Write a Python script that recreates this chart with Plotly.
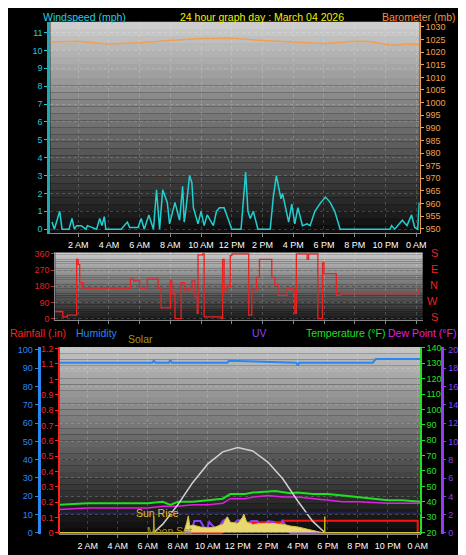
import plotly.graph_objects as go

W, H = 466, 555

# ---- data (hours since midnight) ----
wind_t = [0.3, 0.45, 0.8, 0.95, 1.4, 1.6, 1.75, 1.9, 2.2, 2.5, 2.6, 3.2, 3.4, 3.55, 3.7, 3.8, 4.8, 5.2, 5.35,
          5.9, 6.1, 6.3, 6.6, 6.7, 6.9, 7.1, 7.3, 7.5, 7.8, 7.95, 8.1, 8.3, 8.6, 8.8, 8.9, 9.0, 9.25, 9.4, 9.5,
          9.6, 9.8, 10.0, 10.2, 10.4, 10.8, 11.0, 11.2, 11.5, 11.8, 12.0, 12.6, 12.9, 13.05, 13.2, 13.4, 13.6,
          13.7, 14.5, 14.7, 14.9, 15.0, 15.2, 15.3, 15.5, 15.7, 15.9, 16.1, 16.3, 16.6, 16.9, 17.1, 17.4, 17.8,
          18.1, 18.4, 18.7, 18.9, 19.05, 19.2, 22.3, 22.4, 22.6, 23.1, 23.4, 23.7, 23.9, 24.1, 24.2]
wind_v = [0.4, 0.0, 1.0, 0.0, 0.0, 0.6, 0.0, 0.2, 0.2, 0.0, 0.2, 0.0, 0.6, 0.2, 0.7, 0.0, 0.0, 0.4, 0.1,
          0.1, 0.6, 0.0, 0.8, 0.5, 0.0, 2.2, 0.0, 2.2, 1.5, 0.3, 0.8, 1.5, 0.5, 2.4, 0.4, 1.0, 3.0, 2.6, 1.2,
          0.9, 0.3, 1.0, 0.2, 0.8, 0.2, 1.0, 1.2, 1.2, 0.4, 0.0, 0.0, 3.2, 1.0, 0.6, 1.0, 0.3,
          0.0, 0.0, 1.8, 3.0, 2.6, 1.7, 2.0, 1.2, 0.4, 1.4, 0.3, 1.2, 0.2, 0.3, 0.2, 1.0, 1.5,
          1.8, 1.5, 1.0, 0.5, 0.0, 0.0, 0.0, 0.2, 0.0, 0.5, 0.2, 0.8, 0.1, 0.0, 1.5]

baro_t = [0.2, 2, 4, 6, 8, 10, 12, 14, 16, 18, 20, 21, 22.5, 23.5, 24.2]
baro_v = [1024, 1024.3, 1023.2, 1023.7, 1024.6, 1025.4, 1025.5, 1024.6, 1024.0, 1023.4, 1024.3, 1024.2, 1022.6, 1023.2, 1023.0]

dir_t = [0.5, 0.9, 1.0, 1.3, 1.8, 1.9, 2.0, 2.1, 2.3, 5.3, 5.4, 5.6, 5.9, 6.0, 6.4, 6.5, 7.0, 7.2, 7.4, 7.9,
         8.0, 8.1, 8.3, 8.6, 8.7, 8.9, 9.2, 9.4, 9.6, 9.75, 9.8, 10.1, 10.2, 11.3, 11.4, 11.5, 11.7, 11.9,
         12.0, 13.0, 13.1, 13.3, 13.6, 13.8, 14.5, 14.6, 14.8, 15.0, 15.6, 16.0, 16.1, 16.2, 16.9, 17.0,
         17.5, 17.6, 17.8, 17.9, 18.0, 18.6, 18.8, 19.1, 24.0, 24.2]
dir_v = [40, 40, 10, 20, 20, 330, 300, 200, 170, 170, 220, 210, 210, 170, 170, 220, 220, 170, 60, 60,
         210, 140, 0, 0, 200, 160, 170, 210, 120, 30, 355, 360, 10, 0, 330, 150, 180, 350,
         360, 360, 20, 160, 230, 330, 330, 230, 190, 130, 170, 160, 30, 360, 330, 360,
         360, 0, 0, 310, 250, 250, 130, 140, 140, 170]

hum_t = [0.1, 6.3, 6.4, 6.5, 7.4, 7.5, 7.6, 11.3, 11.4, 15.9, 16.0, 16.1, 21.0, 21.2, 24.2]
hum_v = [93, 93, 94, 93, 93, 94.5, 93, 93, 94, 93, 91.5, 93, 93, 95, 95]

temp_t = [0.1, 2, 4, 6, 7, 7.5, 8, 9, 10, 11, 11.5, 12.5, 13, 14, 14.5, 15.5, 16, 17, 18, 19, 20, 21, 22, 23, 24.2]
temp_v = [38, 39, 39, 39, 40, 38, 40, 40, 41, 42, 45, 45, 46, 46.5, 47, 45.5, 46, 45, 45, 44, 43, 42, 41, 41, 40]
dew_t = [0.1, 2, 4, 6, 7, 8, 9, 10, 11, 11.5, 12.5, 13, 14, 15, 16, 17, 18, 19, 20, 22, 24.2]
dew_v = [35, 36, 36, 36, 37, 37, 38, 38, 39, 42, 42, 43, 44, 43, 43, 42, 41, 40, 40, 39, 39]

rain_t = [0.1, 10.9, 11.3, 11.8, 12.3, 14.9, 14.95, 24.0, 24.0]
rain_v = [0, 0, 0.02, 0.04, 0.07, 0.07, 0.08, 0.08, 0]

uv_t = [0.1, 8.9, 9.1, 9.5, 9.9, 10.1, 10.6, 11.0, 11.3, 11.6, 12.0, 12.3, 12.6, 12.9, 13.3, 13.6, 14.0, 14.4, 14.7, 15.0, 15.5, 24.2]
uv_v = [0, 0, 1.3, 1.3, 0.2, 1.2, 0.3, 1.3, 1.6, 0.8, 1.4, 1.3, 0.6, 1.3, 1.3, 0.4, 1.3, 1.2, 0.4, 1.3, 0, 0]

solar_t = [0.1, 8.4, 8.6, 8.7, 8.8, 9.0, 9.5, 10.0, 10.5, 11.0, 11.3, 11.5, 12.0, 12.3, 12.4, 12.6, 13.0, 14.0, 15.0, 15.5, 16.0, 17.0, 17.6, 24.2]
solar_v = [0, 0, 55, 90, 35, 40, 30, 25, 30, 45, 85, 55, 50, 80, 100, 55, 45, 50, 45, 35, 30, 12, 0, 0]

clear_t = [6.4, 7, 8, 9, 10, 11, 12, 13, 14, 15, 16, 17, 17.8]
clear_v = [0, 45, 150, 270, 370, 435, 458, 440, 380, 290, 170, 60, 0]

hour_ticks = [2, 4, 6, 8, 10, 12, 14, 16, 18, 20, 22, 24]
hour_labels = ["2 AM", "4 AM", "6 AM", "8 AM", "10 AM", "12 PM", "2 PM", "4 PM", "6 PM", "8 PM", "10 PM", "0 AM"]


def px(x):
    return x / W


def py(y):
    return 1 - y / H


FONT = "Liberation Sans"
fig = go.Figure()

# top panel
fig.add_trace(go.Scatter(x=baro_t, y=baro_v, mode="lines", line=dict(color="#f0a050", width=1.5),
                         xaxis="x", yaxis="y2", hoverinfo="skip"))
fig.add_trace(go.Scatter(x=wind_t, y=wind_v, mode="lines", line=dict(color="#20d0d0", width=1.5),
                         xaxis="x", yaxis="y"))
# middle panel
fig.add_trace(go.Scatter(x=dir_t, y=dir_v, mode="lines", line=dict(color="#ee2020", width=1.3, shape="hv"),
                         xaxis="x2", yaxis="y3"))
# bottom panel
fig.add_trace(go.Scatter(x=solar_t, y=solar_v, mode="lines", fill="tozeroy", fillcolor="#e8d870",
                         line=dict(color="#d8c040", width=1), xaxis="x3", yaxis="y8"))
fig.add_trace(go.Scatter(x=clear_t, y=clear_v, mode="lines", line=dict(color="#d0d0d0", width=1.5),
                         xaxis="x3", yaxis="y8"))
fig.add_trace(go.Scatter(x=hum_t, y=hum_v, mode="lines", line=dict(color="#2888f0", width=2),
                         xaxis="x3", yaxis="y4"))
fig.add_trace(go.Scatter(x=temp_t, y=temp_v, mode="lines", line=dict(color="#20e020", width=2),
                         xaxis="x3", yaxis="y6"))
fig.add_trace(go.Scatter(x=dew_t, y=dew_v, mode="lines", line=dict(color="#e020e0", width=1.5),
                         xaxis="x3", yaxis="y6"))
fig.add_trace(go.Scatter(x=uv_t, y=uv_v, mode="lines", line=dict(color="#9040f0", width=2),
                         xaxis="x3", yaxis="y7"))
fig.add_trace(go.Scatter(x=rain_t, y=rain_v, mode="lines", line=dict(color="#ff1010", width=2),
                         xaxis="x3", yaxis="y5"))

# panel pixel boxes: (x0, x1, y0, y1)
top = (43, 418, 10, 224)
mid = (48, 421, 244, 313)
bot = (52, 419, 340, 530)

shapes = []
for box, c0, c1 in [(top, 205, 15), (mid, 200, 25), (bot, 195, 12)]:
    n = 30
    for i in range(n):
        g = int(c0 + (c1 - c0) * i / (n - 1))
        shapes.append(dict(type="rect", xref="paper", yref="paper", layer="below", line=dict(width=0),
                           x0=px(box[0]), x1=px(box[1]),
                           y0=py(box[2] + (box[3] - box[2]) * (i + 1) / n),
                           y1=py(box[2] + (box[3] - box[2]) * i / n),
                           fillcolor=f"rgb({g},{g},{g})"))
# navy line, sunrise / sunset markers in bottom panel
shapes.append(dict(type="line", xref="paper", yref="y4", x0=px(bot[0]), x1=px(bot[1]), y0=10.8, y1=10.8,
                   line=dict(color="#202080", width=1.5)))
for t in [6.4, 17.8]:
    shapes.append(dict(type="line", xref="x3", yref="y4", x0=t, x1=t, y0=0, y1=9,
                       line=dict(color="#c8b020", width=1.5)))

tick = dict(size=9, family=FONT)
grid = dict(showgrid=True, gridcolor="rgba(255,255,255,0.18)", griddash="dot", zeroline=False)


def xax(box, rng, labels=True):
    return dict(domain=[px(box[0]), px(box[1])], range=rng, tickvals=hour_ticks,
                ticktext=hour_labels if labels else [""] * 12, tickfont=dict(tick, color="white"),
                ticks="outside", ticklen=3, tickcolor="#888", showline=True, linecolor="#888", **grid)


layout = dict(
    width=W, height=H, margin=dict(l=0, r=0, t=0, b=0), paper_bgcolor="black", plot_bgcolor="rgba(0,0,0,0)",
    showlegend=False, shapes=shapes, font=dict(family=FONT),
    xaxis=xax(top, [0.19, 24.23]),
    xaxis2=dict(xax(mid, [0.51, 24.42], labels=False), anchor="y3"),
    xaxis3=dict(xax(bot, [0.09, 24.2]), anchor="y4"),
    yaxis=dict(domain=[py(top[3]), py(top[2])], range=[-0.2, 11.6], dtick=1, tickfont=dict(tick, color="#20c8d8"),
               ticks="outside", ticklen=3, tickcolor="#20c8d8", showline=True, linecolor="#20a8b8", linewidth=3, **grid),
    yaxis2=dict(overlaying="y", side="right", range=[948.4, 1032], dtick=5, tickfont=dict(tick, color="#f0a050"),
                ticks="outside", ticklen=3, tickcolor="#f0a050", showline=True, linecolor="#f0a050", showgrid=False),
    yaxis3=dict(domain=[py(mid[3]), py(mid[2])], anchor="x2", range=[-10, 368], tickvals=[0, 90, 180, 270, 360],
                tickfont=dict(tick, color="#e02020"), ticks="outside", ticklen=3, tickcolor="#e02020",
                showline=True, linecolor="#888", **grid),
    yaxis4=dict(domain=[py(bot[3]), py(bot[2])], anchor="free", position=px(31), range=[-0.8, 101.5], dtick=10,
                tickfont=dict(tick, color="#2888f0"), ticks="outside", ticklen=3, tickcolor="#2888f0",
                showline=True, linecolor="#2888f0", linewidth=3, **grid),
    yaxis5=dict(overlaying="y4", anchor="free", position=px(bot[0]), range=[-0.009, 1.21], dtick=0.1,
                tickfont=dict(tick, color="#ff2020"), ticks="outside", ticklen=3, tickcolor="#ff2020",
                showline=True, linecolor="#ff2020", linewidth=2, showgrid=False, zeroline=False),
    yaxis6=dict(overlaying="y4", side="right", anchor="free", position=px(bot[1]), range=[18.8, 140.5], dtick=10,
                tickfont=dict(tick, color="#20e020"), ticks="outside", ticklen=3, tickcolor="#20e020",
                showline=True, linecolor="#20e020", linewidth=2, showgrid=False, zeroline=False),
    yaxis7=dict(overlaying="y4", side="right", anchor="free", position=px(441), range=[-0.15, 20.3], dtick=2,
                tickfont=dict(tick, color="#9040f0"), ticks="outside", ticklen=2, tickcolor="#9040f0",
                showline=True, linecolor="#9040f0", linewidth=3, showgrid=False, zeroline=False),
    yaxis8=dict(overlaying="y4", range=[-10, 1000], visible=False),
)
fig.update_layout(**layout)

ann = [
    ("Windspeed (mph)", 33, 5, "#20d0e0", "left"),
    ("24 hour graph day : March 04 2026", 258, 5, "#f0f000", "center"),
    ("Barometer (mb)", 457, 5, "#f09040", "right"),
    ("Rainfall (.in)", 0, 326, "#ff2020", "left"),
    ("Humidity", 67, 326, "#2888f0", "left"),
    ("Solar", 120, 332, "#a09820", "left"),
    ("UV", 255, 326, "#9040f0", "center"),
    ("Temperature (°F)", 385, 326, "#20e020", "right"),
    ("Dew Point (°F)", 457, 326, "#e020e0", "right"),
    ("Sun Rise", 128, 508, "#e0c020", "left"),
    ("Moon Set", 139, 527, "#a09020", "left"),
]
for text, x, y, col, al in ann:
    fig.add_annotation(text=text, xref="paper", yref="paper", x=px(x), y=py(y), xanchor=al, yanchor="middle",
                       showarrow=False, font=dict(family=FONT, size=10.5, color=col))
for i, ch in enumerate("SENWS"):
    fig.add_annotation(text=ch, xref="paper", yref="paper", x=px(439), y=py(245 + 16 * i), showarrow=False,
                       font=dict(family=FONT, size=11, color="#ee2020"))

fig.write_html("out.html")
